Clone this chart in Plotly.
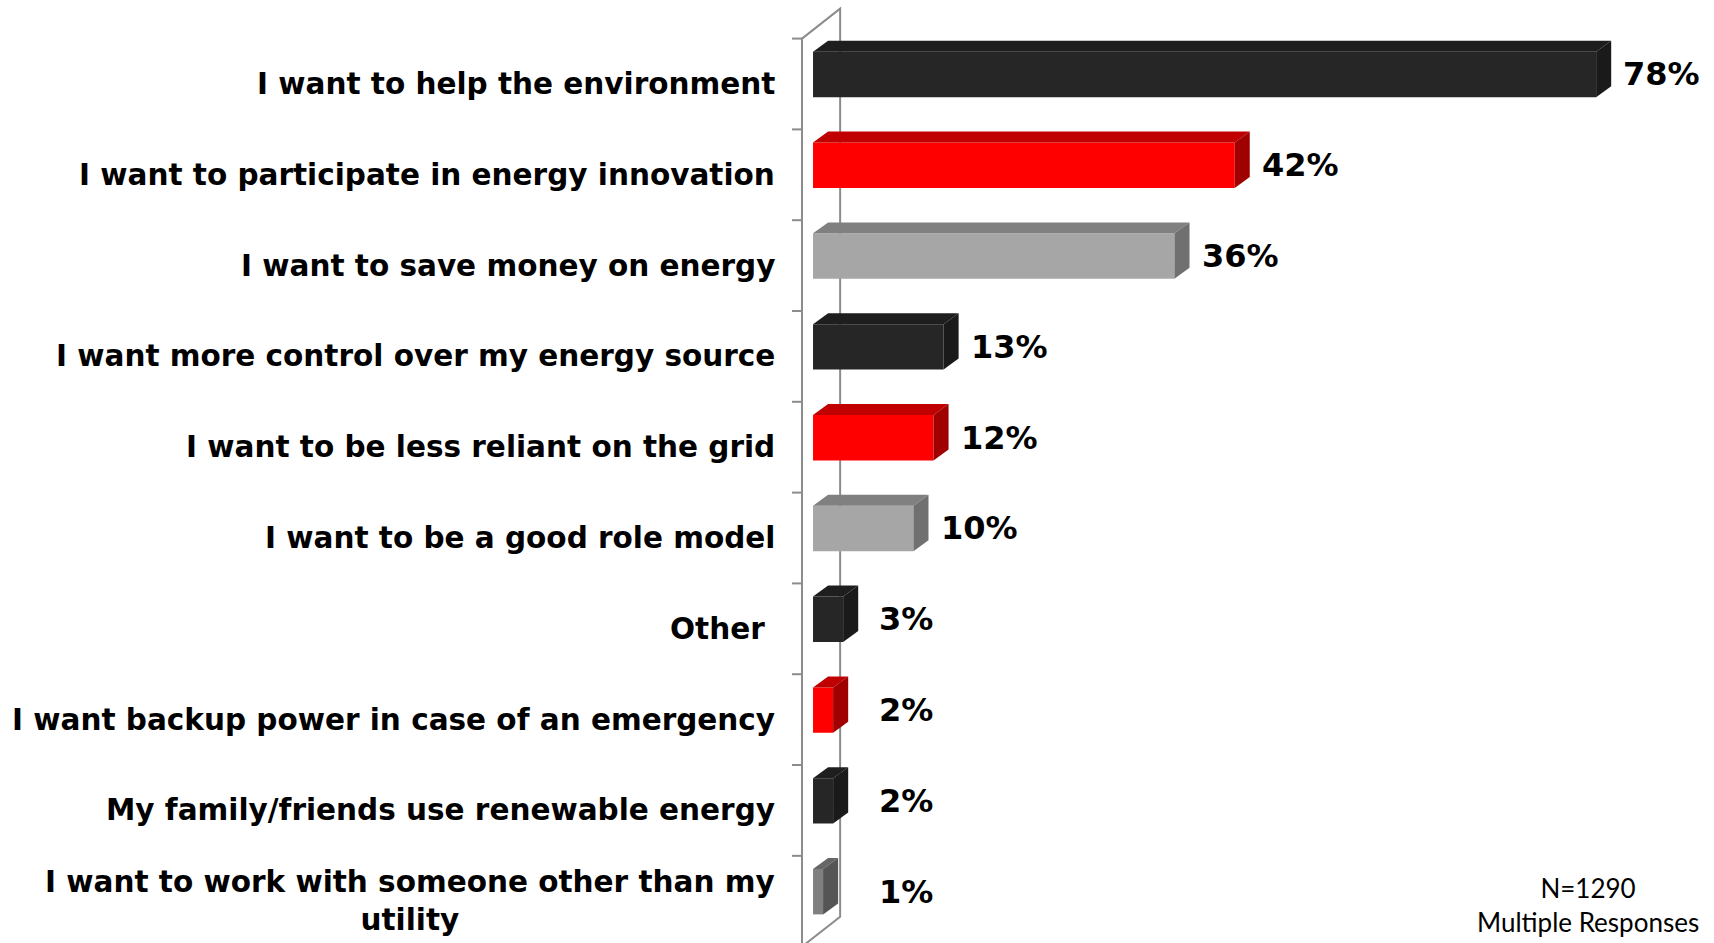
import plotly.graph_objects as go

# Survey responses: reasons for interest (multiple responses allowed)
categories = [
    "I want to help the environment",
    "I want to participate in energy innovation",
    "I want to save money on energy",
    "I want more control over my energy source",
    "I want to be less reliant on the grid",
    "I want to be a good role model",
    "Other\u00a0",
    "I want backup power in case of an emergency",
    "My family/friends use renewable energy",
    "I want to work with someone other than my<br>utility",
]
values = [78, 42, 36, 13, 12, 10, 3, 2, 2, 1]
sample_note = "N=1290<br>Multiple Responses"

# Face colours (front, top, side) for each bar
DARK = ("#262626", "#1e1e1e", "#1a1a1a")
RED = ("#ff0000", "#c00000", "#a00000")
GRAY = ("#a6a6a6", "#808080", "#707070")
DIMGRAY = ("#808080", "#666666", "#555555")
bar_styles = [DARK, RED, GRAY, DARK, RED, GRAY, DARK, RED, DARK, DIMGRAY]

# Pseudo-3D geometry in axis units
BAR_H = 0.5          # bar thickness (rows)
DEPTH_X = 1.5        # depth offset along x (%)
DEPTH_Y = 0.121      # depth offset along y (rows)
WALL_X = -1.1        # front edge of the side wall (%)
WALL_DX = 3.8        # wall depth along x (%)
WALL_DY = 0.33       # wall depth along y (rows)
BAND_SHIFT = 0.105   # category band centre relative to bar front face
TICK_LEN = 1.0

X_RANGE = [-3.29, 89.74]
Y_RANGE = [9.565, -0.82]
LABEL_X_PAPER = -0.003   # right edge of the category labels

CAT_FONT = dict(family="DejaVu Sans", size=29.5, color="black", weight="bold")
VAL_FONT = dict(family="DejaVu Sans", size=32, color="black", weight="bold")
WALL_COLOR = "#8c8c8c"

n = len(values)
rows = list(range(n))
fig = go.Figure()

# Side wall (drawn beneath the bars): front edge, back edge, diagonals, ticks
top_b = -0.5 + BAND_SHIFT
bot_b = n - 0.5 + BAND_SHIFT
wall_line = dict(color=WALL_COLOR, width=2)
shapes = [
    dict(type="line", xref="x", yref="y", x0=WALL_X, x1=WALL_X, y0=top_b, y1=bot_b,
         line=wall_line, layer="below"),
    dict(type="path", xref="x", yref="y",
         path=(f"M {WALL_X},{top_b} L {WALL_X + WALL_DX},{top_b - WALL_DY} "
               f"L {WALL_X + WALL_DX},{bot_b - WALL_DY} L {WALL_X},{bot_b}"),
         line=wall_line, layer="below"),
]
for k in range(n + 1):
    shapes.append(dict(type="line", xref="x", yref="y",
                       x0=WALL_X - TICK_LEN, x1=WALL_X, y0=top_b + k, y1=top_b + k,
                       line=wall_line, layer="below"))

# Front faces of the bars
fig.add_trace(go.Bar(
    x=values, y=rows, orientation="h", base=0, width=BAR_H,
    marker=dict(color=[s[0] for s in bar_styles], line=dict(width=0)),
    hoverinfo="x", showlegend=False,
))

# Top and side faces
for i, (v, style) in enumerate(zip(values, bar_styles)):
    y_top = i - BAR_H / 2
    y_bot = i + BAR_H / 2
    fig.add_trace(go.Scatter(
        x=[0, v, v + DEPTH_X, DEPTH_X, 0],
        y=[y_top, y_top, y_top - DEPTH_Y, y_top - DEPTH_Y, y_top],
        fill="toself", fillcolor=style[1], mode="lines",
        line=dict(width=0, color=style[1]), hoverinfo="skip", showlegend=False,
    ))
    fig.add_trace(go.Scatter(
        x=[v, v + DEPTH_X, v + DEPTH_X, v, v],
        y=[y_top, y_top - DEPTH_Y, y_bot - DEPTH_Y, y_bot, y_top],
        fill="toself", fillcolor=style[2], mode="lines",
        line=dict(width=0, color=style[2]), hoverinfo="skip", showlegend=False,
    ))

annotations = []
# Value labels
for i, v in enumerate(values):
    annotations.append(dict(
        x=max(v + DEPTH_X + 1.0, 6.4), y=i, xref="x", yref="y",
        text=f"{v}%", showarrow=False, xanchor="left", yanchor="middle",
        font=VAL_FONT,
    ))
# Category labels
for i, c in enumerate(categories):
    annotations.append(dict(
        x=LABEL_X_PAPER, y=i + BAND_SHIFT, xref="paper", yref="y",
        text=c, showarrow=False, xanchor="right", yanchor="middle",
        align="center", font=CAT_FONT,
    ))
# Sample note
annotations.append(dict(
    x=0.865, y=1 - 905 / 943, xref="paper", yref="paper",
    text=sample_note, showarrow=False, xanchor="center", yanchor="middle",
    align="center", font=dict(family="Lato", size=26, color="black"),
))

fig.update_layout(
    width=1714, height=943,
    margin=dict(l=780, r=0, t=0, b=0),
    paper_bgcolor="white", plot_bgcolor="white",
    xaxis=dict(range=X_RANGE, visible=False, fixedrange=True),
    yaxis=dict(range=Y_RANGE, visible=False, fixedrange=True),
    showlegend=False,
    shapes=shapes,
    annotations=annotations,
)

fig.write_html("out.html")
